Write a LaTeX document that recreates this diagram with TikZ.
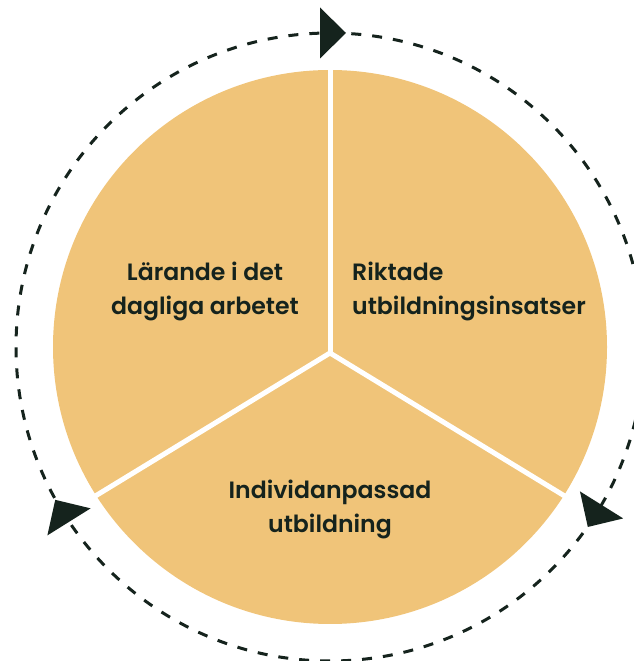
\documentclass[tikz,border=0pt]{standalone}
\usepackage{fontspec}
\setmainfont{Poppins SemiBold}
\definecolor{ink}{HTML}{15231D}
\definecolor{sand}{HTML}{F0C479}

\begin{document}
\begin{tikzpicture}
  [x=1pt,y=1pt,
   every node/.style={font=\fontsize{23.6}{34}\selectfont,text=ink,inner sep=0pt},
   divider/.style={draw=white,line width=5pt},
   loopline/.style={draw=ink,line width=3pt,dash pattern=on 10pt off 11pt}]
  \clip (0,0) rectangle (634,661);

  \coordinate (mid) at (330,314);
  \coordinate (hub) at (330,308);
  \path (mid) ++(90:282) coordinate (n);
  \path (mid) ++(212.4:282) coordinate (sw);
  \path (mid) ++(-32.4:282) coordinate (se);

  \fill[sand] (mid) circle (277);
  \foreach \to in {n,sw,se}
    \draw[divider] (hub) -- (\to);

  \draw[loopline] (mid) circle (314);
  \foreach \a in {90,212,328}
    \fill[ink,shift={(mid)},rotate=\a] (288.5,10) -- (339.5,10) -- (314,-16) -- cycle;

  \node[anchor=base,align=center] (learn) at (205,346) {Lärande i det\\dagliga arbetet};
  \node[anchor=base west,align=left] (aimed) at (352,346) {Riktade\\utbildningsinsatser};
  \node[anchor=base,align=center] (indiv) at (330,128) {Individanpassad\\utbildning};
\end{tikzpicture}
\end{document}
